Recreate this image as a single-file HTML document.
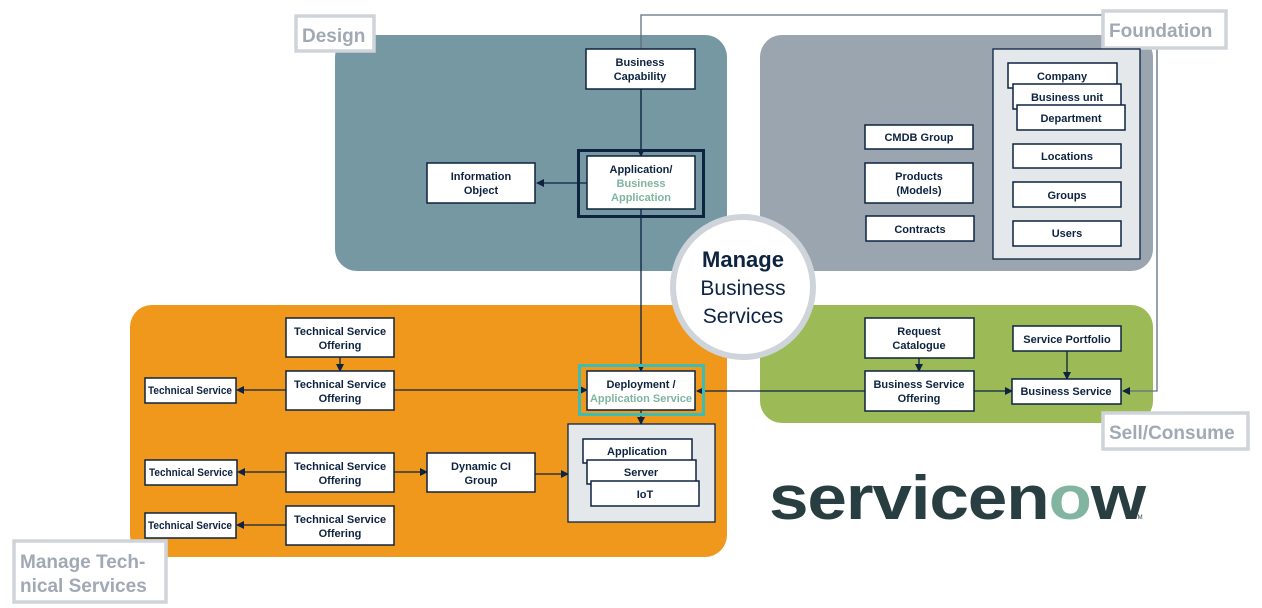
<!DOCTYPE html>
<html><head><meta charset="utf-8"><style>
html,body{margin:0;padding:0;background:#fff;}
svg{display:block;}
text{font-family:"Liberation Sans","DejaVu Sans",sans-serif;}
.b{fill:#fff;stroke:#0d2340;stroke-width:1.5;}
.t{font-size:11px;font-weight:bold;fill:#0d2340;text-anchor:middle;}
.g{fill:#7fb59f;}
.l{stroke:#0d2340;stroke-width:1.3;fill:none;}
.lab{fill:#fff;stroke:#cfd4da;stroke-width:3.5;}
.lt{font-size:19px;font-weight:bold;fill:#a0a9b4;}
</style></head><body>
<svg width="1262" height="608" viewBox="0 0 1262 608" xmlns="http://www.w3.org/2000/svg">
<defs><marker id="a" markerWidth="8" markerHeight="8" refX="7" refY="4" orient="auto" markerUnits="userSpaceOnUse"><path d="M0,0 L8,4 L0,8z" fill="#0d2340"/></marker></defs>
<rect x="335" y="35" width="392" height="236" rx="22" fill="#7698a3"/>
<rect x="760" y="35" width="393" height="236" rx="22" fill="#9aa5b0"/>
<rect x="130" y="305" width="597" height="252" rx="22" fill="#f0981c"/>
<rect x="760" y="305" width="393" height="118" rx="22" fill="#9cba55"/>
<path d="M641,156 L641,15 L1157,15 L1157,391 L1123,391" stroke="#5e7080" stroke-width="1.3" fill="none" marker-end="url(#a)"/>
<line class="l" x1="641" y1="89" x2="641" y2="156" marker-end="url(#a)"/>
<line class="l" x1="641" y1="209" x2="641" y2="371" marker-end="url(#a)"/>
<line class="l" x1="587" y1="183" x2="537" y2="183" marker-end="url(#a)"/>
<line class="l" x1="394" y1="390" x2="587" y2="390" marker-end="url(#a)"/>
<line class="l" x1="286" y1="390" x2="237" y2="390" marker-end="url(#a)"/>
<line class="l" x1="340" y1="357" x2="340" y2="371" marker-end="url(#a)"/>
<line class="l" x1="641" y1="410" x2="641" y2="424" marker-end="url(#a)"/>
<line class="l" x1="865" y1="391" x2="697" y2="391" marker-end="url(#a)"/>
<line class="l" x1="919" y1="358" x2="919" y2="371" marker-end="url(#a)"/>
<line class="l" x1="1067" y1="351" x2="1067" y2="379" marker-end="url(#a)"/>
<line class="l" x1="974" y1="391" x2="1012" y2="391" marker-end="url(#a)"/>
<line class="l" x1="286" y1="472" x2="238" y2="472" marker-end="url(#a)"/>
<line class="l" x1="394" y1="472" x2="427" y2="472" marker-end="url(#a)"/>
<line class="l" x1="535" y1="474" x2="568" y2="474" marker-end="url(#a)"/>
<line class="l" x1="286" y1="525" x2="237" y2="525" marker-end="url(#a)"/>
<circle cx="743" cy="287" r="70" fill="#fff" stroke="#cfd4da" stroke-width="6"/>
<text x="743" y="267" style="font-size:22px;font-weight:bold;fill:#0d2340;text-anchor:middle">Manage</text>
<text x="743" y="295" style="font-size:21px;fill:#0d2340;text-anchor:middle">Business</text>
<text x="743" y="323" style="font-size:21px;fill:#0d2340;text-anchor:middle">Services</text>
<rect class="lab" x="296" y="16" width="78" height="35"/><text class="lt" x="302" y="42">Design</text>
<rect class="lab" x="1103" y="11" width="123" height="37"/><text class="lt" x="1109" y="37">Foundation</text>
<rect class="lab" x="1103" y="413" width="145" height="36"/><text class="lt" x="1109" y="439">Sell/Consume</text>
<rect class="lab" x="14" y="541" width="152" height="61"/><text class="lt" x="20" y="568">Manage Tech-</text><text class="lt" x="20" y="592">nical Services</text>
<rect class="b" x="586" y="49" width="109" height="40"/><text class="t" x="640" y="66">Business</text><text class="t" x="640" y="80">Capability</text>
<rect x="578.5" y="150.5" width="125" height="66" fill="none" stroke="#0d2340" stroke-width="3"/>
<rect class="b" x="587" y="156" width="108" height="53"/><text class="t" x="641" y="173">Application/</text><text class="t g" x="641" y="187">Business</text><text class="t g" x="641" y="201">Application</text>
<rect class="b" x="427" y="163" width="108" height="40"/><text class="t" x="481" y="180">Information</text><text class="t" x="481" y="194">Object</text>
<rect class="b" x="865" y="125" width="108" height="24"/><text class="t" x="919" y="141">CMDB Group</text>
<rect class="b" x="865" y="163" width="108" height="40"/><text class="t" x="919" y="180">Products</text><text class="t" x="919" y="194">(Models)</text>
<rect class="b" x="866" y="216" width="108" height="25"/><text class="t" x="920" y="233">Contracts</text>
<rect x="993" y="49" width="147" height="210" fill="#e5e8eb" stroke="#0d2340" stroke-width="1.3"/>
<rect class="b" x="1008" y="63" width="109" height="25"/><text class="t" x="1062" y="80">Company</text>
<rect class="b" x="1013" y="84" width="108" height="25"/><text class="t" x="1067" y="101">Business unit</text>
<rect class="b" x="1017" y="105" width="108" height="25"/><text class="t" x="1071" y="122">Department</text>
<rect class="b" x="1013" y="144" width="108" height="24"/><text class="t" x="1067" y="160">Locations</text>
<rect class="b" x="1013" y="182" width="108" height="25"/><text class="t" x="1067" y="199">Groups</text>
<rect class="b" x="1013" y="221" width="108" height="25"/><text class="t" x="1067" y="237">Users</text>
<rect class="b" x="865" y="318" width="109" height="40"/><text class="t" x="919" y="335">Request</text><text class="t" x="919" y="349">Catalogue</text>
<rect class="b" x="1013" y="326" width="108" height="25"/><text class="t" x="1067" y="343">Service Portfolio</text>
<rect class="b" x="865" y="371" width="109" height="40"/><text class="t" x="919" y="388">Business Service</text><text class="t" x="919" y="402">Offering</text>
<rect class="b" x="1012" y="379" width="109" height="25"/><text class="t" x="1066" y="395">Business Service</text>
<rect class="b" x="286" y="318" width="108" height="39"/><text class="t" x="340" y="335">Technical Service</text><text class="t" x="340" y="349">Offering</text>
<rect class="b" x="286" y="371" width="108" height="39"/><text class="t" x="340" y="388">Technical Service</text><text class="t" x="340" y="402">Offering</text>
<rect class="b" x="145" y="378" width="91" height="25"/><text class="t" x="190" y="394" textLength="84" lengthAdjust="spacingAndGlyphs">Technical Service</text>
<rect class="b" x="286" y="453" width="108" height="39"/><text class="t" x="340" y="470">Technical Service</text><text class="t" x="340" y="484">Offering</text>
<rect class="b" x="145" y="460" width="92" height="25"/><text class="t" x="191" y="476" textLength="84" lengthAdjust="spacingAndGlyphs">Technical Service</text>
<rect class="b" x="427" y="453" width="108" height="39"/><text class="t" x="481" y="470">Dynamic CI</text><text class="t" x="481" y="484">Group</text>
<rect class="b" x="286" y="506" width="108" height="39"/><text class="t" x="340" y="523">Technical Service</text><text class="t" x="340" y="537">Offering</text>
<rect class="b" x="145" y="513" width="91" height="25"/><text class="t" x="190" y="529" textLength="84" lengthAdjust="spacingAndGlyphs">Technical Service</text>
<rect x="579.5" y="365.5" width="124" height="49" fill="none" stroke="#3bbcb5" stroke-width="3"/>
<rect class="b" x="587" y="371" width="108" height="39"/><text class="t" x="641" y="388">Deployment /</text><text class="t g" x="641" y="402" textLength="102" lengthAdjust="spacingAndGlyphs">Application Service</text>
<rect x="568" y="424" width="147" height="98" fill="#e5e8eb" stroke="#0d2340" stroke-width="1.3"/>
<rect class="b" x="583" y="439" width="109" height="24"/><text class="t" x="637" y="455">Application</text>
<rect class="b" x="587" y="460" width="109" height="24"/><text class="t" x="641" y="476">Server</text>
<rect class="b" x="591" y="481" width="108" height="25"/><text class="t" x="645" y="498">IoT</text>
<text x="769" y="519" textLength="376" lengthAdjust="spacingAndGlyphs" style="font-size:62px;font-weight:bold;fill:#293e40;letter-spacing:-1px">service<tspan>n</tspan><tspan fill="#81b5a1">o</tspan>w</text>
<text x="1134" y="519" style="font-size:6px;fill:#293e40">TM</text>
</svg>
</body></html>
